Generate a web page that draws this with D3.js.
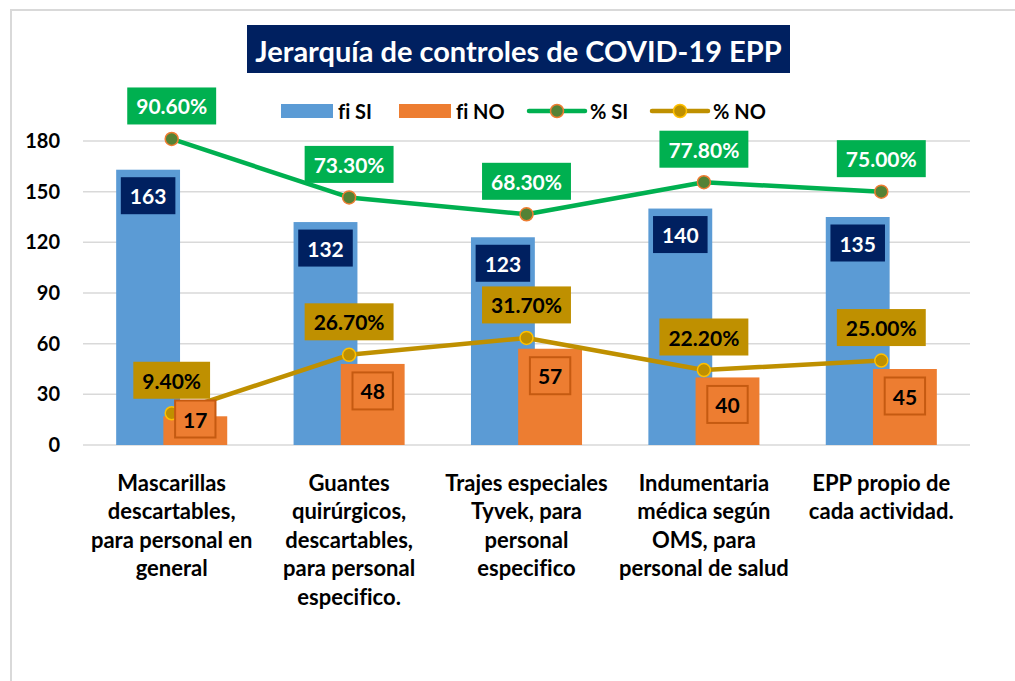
<!DOCTYPE html>
<html><head><meta charset="utf-8">
<script src="https://cdn.jsdelivr.net/npm/d3@7"></script>
<style>
html,body{margin:0;padding:0;background:#fff;}
svg text{font-family:Lato,"Open Sans",sans-serif;font-weight:700;font-variant-ligatures:none;font-feature-settings:"liga" 0;}
</style></head>
<body><svg id="c" width="1015" height="681"></svg>
<script>
// ---- data ----
const categories = [
  ["Mascarillas","descartables,","para personal en","general"],
  ["Guantes","quirúrgicos,","descartables,","para personal","especifico."],
  ["Trajes especiales","Tyvek, para","personal","especifico"],
  ["Indumentaria","médica según","OMS, para","personal de salud"],
  ["EPP propio de","cada actividad."]
];
const fiSI = [163, 132, 123, 140, 135];
const fiNO = [17, 48, 57, 40, 45];
const pctSI = [90.6, 73.3, 68.3, 77.8, 75.0];
const pctNO = [9.4, 26.7, 31.7, 22.2, 25.0];
const yTicks = [0, 30, 60, 90, 120, 150, 180];
const title = "Jerarquía de controles de COVID-19 EPP";
const legendItems = ["fi SI", "fi NO", "% SI", "% NO"];

// ---- styles ----
const C = {blue:"#5B9BD5", orange:"#ED7D31", orangeDark:"#C55A11", green:"#00B050", greenDark:"#548235",
  gold:"#BF9000", goldLight:"#FFC000", navy:"#002060", grid:"#D9D9D9"};

const svg = d3.select("#c");
const idx = d3.range(categories.length);
const x = d3.scaleBand().domain(idx).range([83, 970]).padding(0);
const y = d3.scaleLinear().domain([0, 180]).range([445, 141]);
const y2 = d3.scaleLinear().domain([0, 90]).range([445, 141]);
const step = x.bandwidth();
const bw = step * 0.36, off = step * 0.133;
const cx = i => x(i) + step / 2;

// border
svg.append("path").attr("d", "M11,681V10H1015").attr("fill","none").attr("stroke", C.grid).attr("stroke-width", 2);

// gridlines
svg.append("g").selectAll("line").data(yTicks).join("line")
  .attr("x1", 83).attr("x2", 970).attr("y1", d => y(d)).attr("y2", d => y(d))
  .attr("stroke", C.grid).attr("stroke-width", 1.5);

// y axis labels via d3 axis
const yAxis = svg.append("g").attr("transform", "translate(66,0)")
  .call(d3.axisLeft(y).tickValues(yTicks).tickSize(0).tickPadding(6));
yAxis.select(".domain").remove();
yAxis.selectAll("text").attr("font-size", 20).attr("fill", "#000").attr("font-family","Lato").attr("font-weight",700);

// bars
svg.append("g").selectAll("rect").data(fiSI).join("rect")
  .attr("x", (d,i) => cx(i) - off - bw/2).attr("width", bw)
  .attr("y", d => y(d)).attr("height", d => y(0) - y(d)).attr("fill", C.blue);
svg.append("g").selectAll("rect").data(fiNO).join("rect")
  .attr("x", (d,i) => cx(i) + off - bw/2).attr("width", bw)
  .attr("y", d => y(d)).attr("height", d => y(0) - y(d)).attr("fill", C.orange);

// lines
const lineSI = d3.line().x((d,i) => cx(i)).y(d => y2(d));
svg.append("path").attr("d", lineSI(pctSI)).attr("fill","none").attr("stroke", C.green).attr("stroke-width", 4.5).attr("stroke-linejoin","round");
svg.append("path").attr("d", lineSI(pctNO)).attr("fill","none").attr("stroke", C.gold).attr("stroke-width", 4.5).attr("stroke-linejoin","round");

// markers
svg.append("g").selectAll("circle").data(pctSI).join("circle")
  .attr("cx", (d,i) => cx(i)).attr("cy", d => y2(d)).attr("r", 6.5)
  .attr("fill", C.greenDark).attr("stroke", C.orange).attr("stroke-width", 1.5);
svg.append("g").selectAll("circle").data(pctNO).join("circle")
  .attr("cx", (d,i) => cx(i)).attr("cy", d => y2(d)).attr("r", 6.5)
  .attr("fill", C.gold).attr("stroke", C.goldLight).attr("stroke-width", 1.5);

// label helper
function boxLabel(g, xc, yc, txt, fill, color, stroke, padX, fs) {
  const t = g.append("text").attr("x", xc).attr("y", yc).attr("text-anchor","middle")
    .attr("dominant-baseline","central").attr("font-size", fs).attr("fill", color).text(txt);
  const w = t.node().getComputedTextLength();
  const h = 37;
  g.insert("rect", () => t.node()).attr("x", xc - w/2 - padX).attr("y", yc - h/2)
    .attr("width", w + 2*padX).attr("height", h).attr("fill", fill)
    .attr("stroke", stroke || "none").attr("stroke-width", stroke ? 2 : 0);
}
const lab = svg.append("g");
fiSI.forEach((d,i) => boxLabel(lab, cx(i) - off, Math.min(y(d) + 26, y(0) - 26), d, C.navy, "#fff", null, 9, 21));
fiNO.forEach((d,i) => boxLabel(lab, cx(i) + off, Math.min(y(d) + 27, y(0) - 26), d, C.orange, "#000", C.orangeDark, 8, 21));
pctSI.forEach((d,i) => boxLabel(lab, cx(i), y2(d) - 33, d.toFixed(2) + "%", C.green, "#fff", null, 9, 21));
pctNO.forEach((d,i) => boxLabel(lab, cx(i), y2(d) - 33, d.toFixed(2) + "%", C.gold, "#000", null, 9, 21));

// x labels
const xl = svg.append("g");
categories.forEach((lines, i) => {
  lines.forEach((ln, j) => {
    xl.append("text").attr("x", cx(i)).attr("y", 482 + j * 28.5).attr("text-anchor","middle")
      .attr("dominant-baseline","central").attr("font-size", 22).attr("fill","#000").text(ln);
  });
});

// title
svg.append("rect").attr("x", 247).attr("y", 25).attr("width", 543).attr("height", 48).attr("fill", C.navy);
svg.append("text").attr("x", 518.5).attr("y", 50).attr("text-anchor","middle").attr("dominant-baseline","central")
  .attr("font-size", 29).attr("fill","#fff").text(title);

// legend
const lg = svg.append("g");
const ly = 111;
const legX = [281, 399, 529, 652];
lg.append("rect").attr("x", legX[0]).attr("y", ly-7).attr("width", 52).attr("height", 14).attr("fill", C.blue);
lg.append("rect").attr("x", legX[1]).attr("y", ly-7).attr("width", 52).attr("height", 14).attr("fill", C.orange);
[[C.green, C.greenDark, C.orange],[C.gold, C.gold, C.goldLight]].forEach((c, k) => {
  const x0 = legX[2 + k];
  lg.append("line").attr("x1", x0).attr("x2", x0 + 56).attr("y1", ly).attr("y2", ly)
    .attr("stroke", c[0]).attr("stroke-width", 4.5).attr("stroke-linecap","round");
  lg.append("circle").attr("cx", x0 + 28).attr("cy", ly).attr("r", 6.5).attr("fill", c[1]).attr("stroke", c[2]).attr("stroke-width", 1.5);
});
legendItems.forEach((t, k) => {
  const tx = k < 2 ? legX[k] + 57 : legX[k] + 61;
  lg.append("text").attr("x", tx).attr("y", ly).attr("dominant-baseline","central")
    .attr("font-size", 20).attr("fill","#000").text(t);
});
</script></body></html>
